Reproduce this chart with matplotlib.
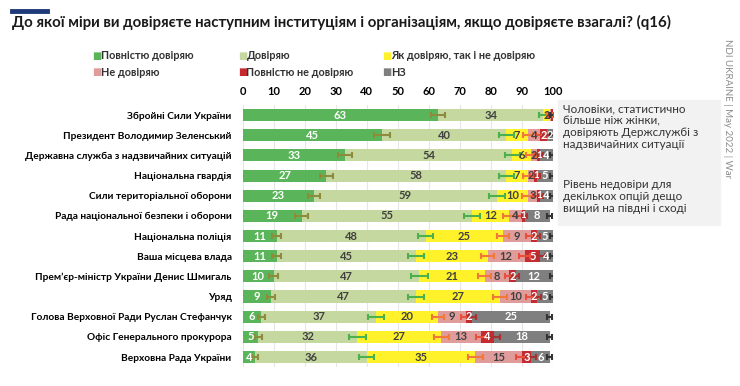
import numpy as np
import matplotlib.pyplot as plt

plt.rcParams['font.family'] = ['Lato', 'DejaVu Sans']

categories = [
    'Збройні Сили України',
    'Президент Володимир Зеленський',
    'Державна служба з надзвичайних ситуацій',
    'Національна гвардія',
    'Сили територіальної оборони',
    'Рада національної безпеки і оборони',
    'Національна поліція',
    'Ваша місцева влада',
    'Прем’єр-міністр України Денис Шмигаль',
    'Уряд',
    'Голова Верховної Ради Руслан Стефанчук',
    'Офіс Генерального прокурора',
    'Верховна Рада України',
]

series_names = ['Повністю довіряю', 'Довіряю', 'Як довіряю, так і не довіряю',
                'Не довіряю', 'Повністю не довіряю', 'НЗ']

full_trust = [63, 45, 33, 27, 23, 19, 11, 11, 10, 9, 6, 5, 4]
trust = [34, 40, 54, 58, 59, 55, 48, 45, 47, 47, 37, 32, 36]
neutral = [2, 7, 6, 7, 10, 12, 25, 23, 21, 27, 20, 27, 35]
distrust = [0.5, 4, 2, 2, 3, 4, 9, 12, 8, 10, 9, 13, 15]
full_distrust = [0.5, 2, 1, 1, 1, 1, 2, 5, 2, 2, 2, 4, 3]
no_answer = [0, 2, 4, 5, 4, 8, 5, 4, 12, 5, 25, 18, 6]

# margins of error at the end of each cumulative segment
err_full_trust = [2.4, 2.5, 2.4, 2.2, 2.0, 2.0, 1.4, 1.4, 1.4, 1.3, 1.2, 1.1, 1.0]
err_trust = [1.3, 2.4, 2.4, 2.4, 2.6, 2.6, 2.5, 2.6, 2.6, 2.6, 2.5, 2.6, 2.5]
err_neutral = [0.8, 1.5, 1.5, 1.6, 1.8, 2.0, 2.0, 2.2, 2.0, 2.2, 2.0, 2.4, 2.4]
err_distrust = [0.8, 1.5, 1.2, 1.2, 1.3, 1.5, 1.5, 1.8, 1.5, 1.5, 1.5, 1.8, 2.0]
err_full_distrust = [0.6, 1.0, 0.8, 0.8, 0.8, 0.8, 1.0, 1.5, 1.2, 1.2, 1.2, 2.0, 1.5]
err_no_answer = [0.8, 0.8, 0.8, 0.8, 0.8, 0.8, 0.8, 0.8, 0.8, 0.8, 0.8, 0.8, 0.8]

ticks = [0, 10, 20, 30, 40, 50, 60, 70, 80, 90, 100]

colors = ['#5ab55a', '#c5d89f', '#fff22a', '#e09b9b', '#c42a2f', '#7f7f7f']
label_colors = ['white', '#404040', '#404040', '#404040', 'white', 'white']
err_colors = ['#8c8c3c', '#4cb04c', '#f07838', '#e8503c', '#a83232', '#333333']

series = [full_trust, trust, neutral, distrust, full_distrust, no_answer]
errors = [err_full_trust, err_trust, err_neutral, err_distrust, err_full_distrust, err_no_answer]

fig = plt.figure(figsize=(7.4, 3.86), dpi=100)
ax = fig.add_axes([0.328, 0.049, 0.419, 0.679])

y = np.arange(len(categories))
left = np.zeros(len(categories))
for vals, col, lcol in zip(series, colors, label_colors):
    vals = np.array(vals, dtype=float)
    ax.barh(y, vals, left=left, height=0.6, color=col, zorder=2)
    for yi, (v, l) in enumerate(zip(vals, left)):
        if v >= 1:
            ax.text(l + v / 2, yi, f'{v:g}', ha='center', va='center',
                    fontsize=8 if v >= 2 else 7, fontweight='bold', color=lcol, zorder=4)
    left = left + vals

# error bars at segment ends
cum = np.zeros(len(categories))
for vals, err, ecol in zip(series, errors, err_colors):
    cum = cum + np.array(vals, dtype=float)
    ax.errorbar(cum, y, xerr=err, fmt='none', ecolor=ecol, elinewidth=1.5,
                capsize=2.5, capthick=1.5, zorder=3)

ax.set_xlim(0, 100)
ax.set_ylim(len(categories) - 0.5, -0.5)
ax.set_xticks(ticks)
ax.xaxis.tick_top()
ax.tick_params(axis='x', length=0, pad=6, labelsize=8)
for lb in ax.get_xticklabels():
    lb.set_fontweight('bold')
ax.set_yticks(y)
ax.set_yticklabels(categories, fontsize=7.3, fontweight='bold')
ax.tick_params(axis='y', length=0, pad=8)
ax.grid(axis='x', color='#e6e6e6', linewidth=0.8, zorder=0)
for s in ax.spines.values():
    s.set_visible(False)

# title and decoration
fig.add_artist(plt.Line2D([0.016, 0.064], [0.972, 0.972], color='#1f3a78', linewidth=3.5))
fig.text(0.016, 0.943, 'До якої міри ви довіряєте наступним інституціям і організаціям, якщо довіряєте взагалі? (q16)',
         fontsize=10.8, fontweight='bold', color='#1a1a1a', va='center')

# legend
leg_x = [0.125, 0.322, 0.517]
leg_y = [0.855, 0.813]
for i, (name, col) in enumerate(zip(series_names, colors)):
    fx = leg_x[i % 3]
    fy = leg_y[i // 3]
    fig.text(fx, fy, '■', color=col, fontsize=7, va='center', family='DejaVu Sans')
    fig.text(fx + 0.011, fy, name, fontsize=7.8, fontweight='bold', va='center', color='#333333')

# note box
fig.add_artist(plt.Rectangle((0.754, 0.417), 0.219, 0.324, transform=fig.transFigure,
                             color='#f2f2f2', zorder=0))
fig.text(0.761, 0.733, 'Чоловіки, статистично\nбільше ніж жінки,\nдовіряють Держслужбі з\nнадзвичайних ситуації',
         fontsize=8.4, color='#333333', va='top', linespacing=1.12)
fig.text(0.761, 0.537, 'Рівень недовіри для\nдекількох опцій дещо\nвищий на півдні і сході',
         fontsize=8.4, color='#333333', va='top', linespacing=1.12)

fig.text(0.983, 0.9, 'NDI UKRAINE | May 2022 | War', rotation=-90, fontsize=7,
         color='#8c8c8c', va='top', ha='center')

fig.savefig('out.png', dpi=100)
